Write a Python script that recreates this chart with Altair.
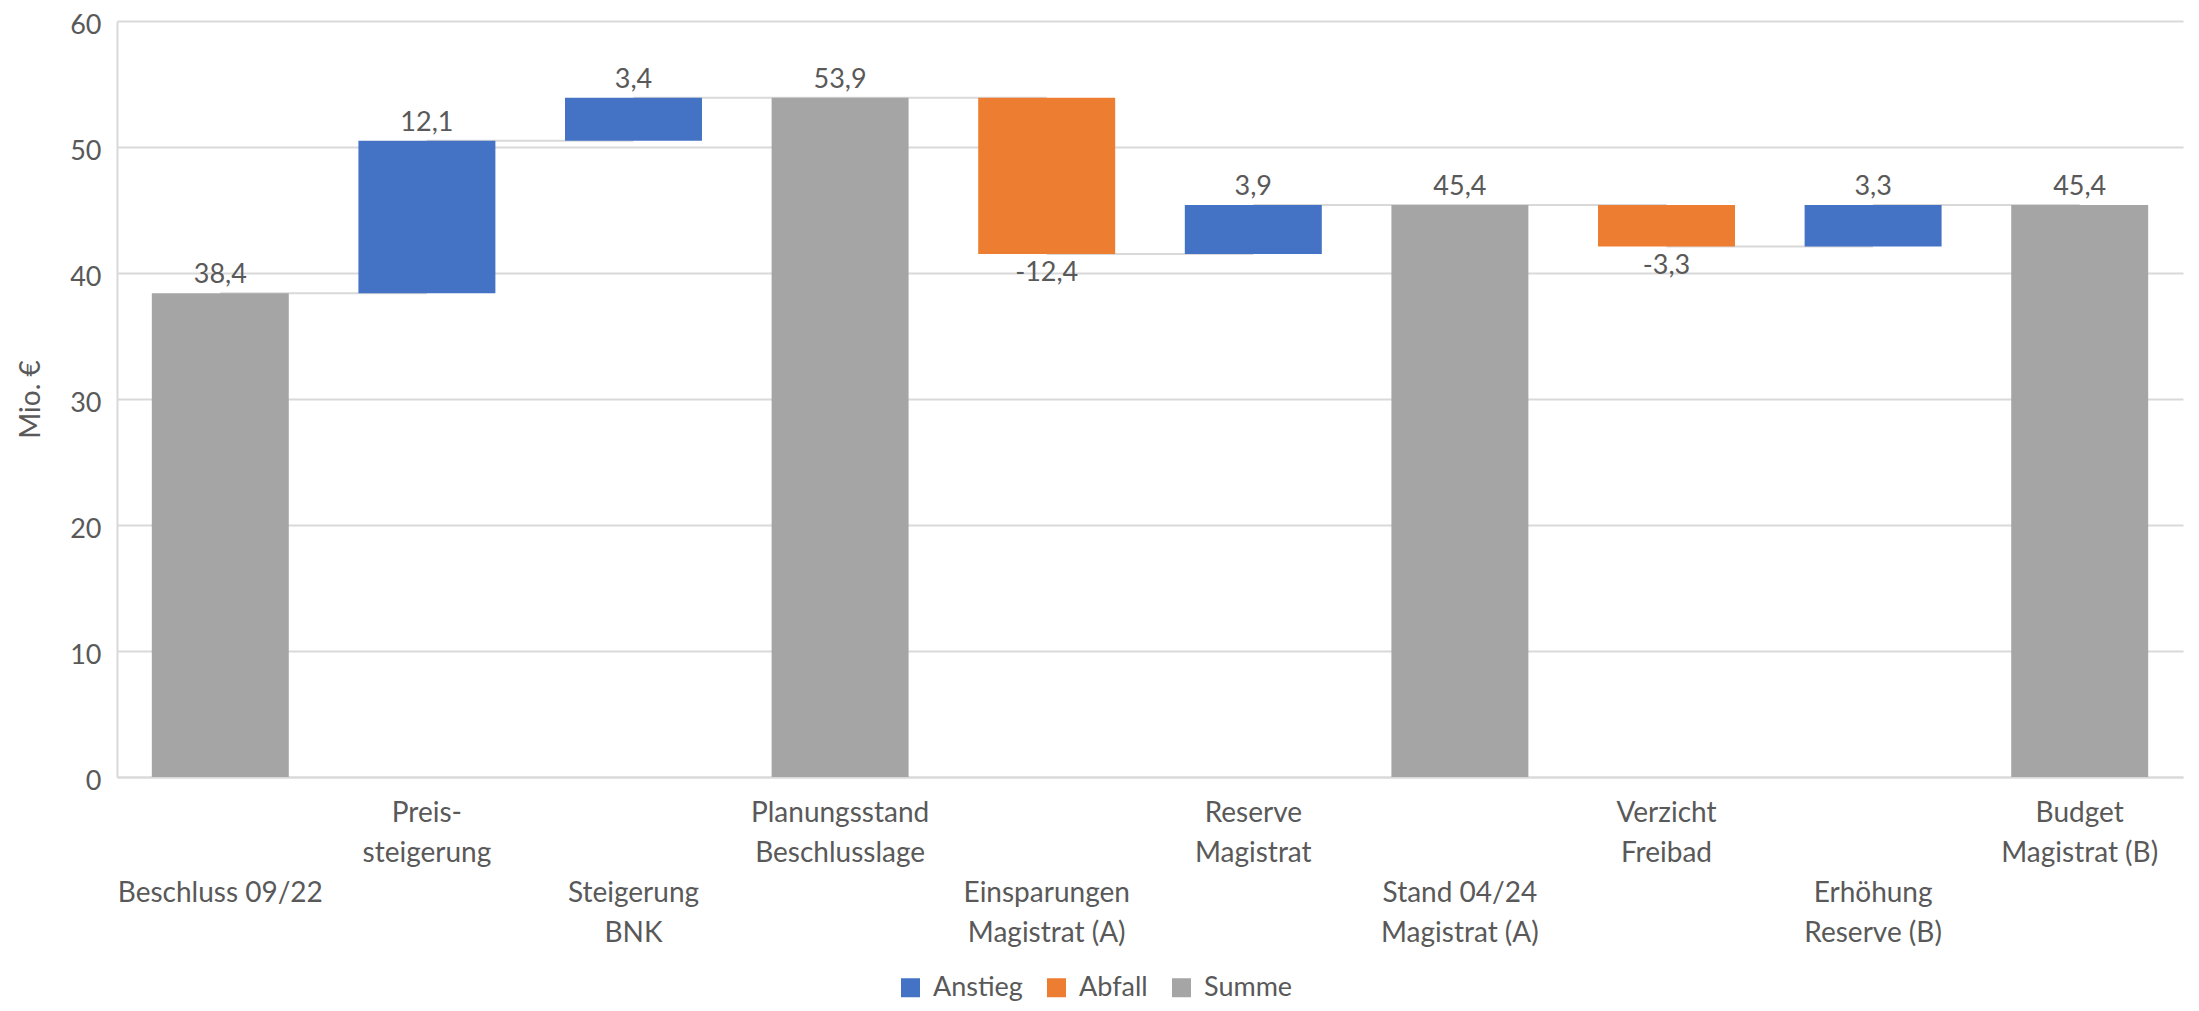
import altair as alt
import pandas as pd

categories = [
    "Beschluss 09/22",
    "Preis-\nsteigerung",
    "Steigerung\nBNK",
    "Planungsstand\nBeschlusslage",
    "Einsparungen\nMagistrat (A)",
    "Reserve\nMagistrat",
    "Stand 04/24\nMagistrat (A)",
    "Verzicht\nFreibad",
    "Erhöhung\nReserve (B)",
    "Budget\nMagistrat (B)",
]
values = [38.4, 12.1, 3.4, 53.9, -12.4, 3.9, 45.4, -3.3, 3.3, 45.4]
kinds = ["Summe", "Anstieg", "Anstieg", "Summe", "Abfall", "Anstieg",
         "Summe", "Abfall", "Anstieg", "Summe"]
legend_order = ["Anstieg", "Abfall", "Summe"]
colors = ["#4472C4", "#ED7D31", "#A5A5A5"]
y_ticks = [0, 10, 20, 30, 40, 50, 60]

rows = []
running = 0.0
for cat, v, k in zip(categories, values, kinds):
    if k == "Summe":
        start, end = 0.0, v
        running = v
    else:
        start, end = running, running + v
        running = end
    rows.append({
        "cat": cat, "kind": k, "start": round(start, 2), "end": round(end, 2),
        "top": round(max(start, end), 2), "bottom": round(min(start, end), 2),
        "label": f"{v:.1f}".replace(".", ","),
    })
df = pd.DataFrame(rows)

conn = pd.DataFrame([
    {"cat": rows[i]["cat"], "next": rows[i + 1]["cat"], "level": rows[i]["end"]}
    for i in range(len(rows) - 1)
])

# staggered category labels (Excel style): odd categories start in row 0,
# even ones in row 2
label_rows = []
for i, cat in enumerate(categories):
    first = 0 if i % 2 == 1 else 2
    for j, line in enumerate(cat.split("\n")):
        label_rows.append({"cat": cat, "line": line, "row": first + j})
labels_df = pd.DataFrame(label_rows)

FONT = "Lato"
TXT = "#595959"
FS_AX = 28
FS_NUM = 27
H = 756

xscale = alt.Scale(paddingInner=0.337, paddingOuter=0.1685)
xenc = alt.X(
    "cat:N", sort=categories, title=None, scale=xscale,
    axis=alt.Axis(labels=False, ticks=False, domainColor="#D9D9D9",
                  domainWidth=2),
)

yscale = alt.Scale(domain=[0, 60], nice=False)
yaxis = alt.Axis(values=y_ticks, title="Mio. €",
                 titleFont=FONT, titleFontSize=FS_AX, titleFontWeight="normal",
                 titleColor=TXT, titlePadding=24, labelFont=FONT,
                 labelFontSize=FS_NUM, labelColor=TXT, labelPadding=16,
                 labelOffset=4,
                 ticks=False, domainColor="#D9D9D9", domainWidth=2,
                 gridColor="#D9D9D9", gridWidth=2)

rules = alt.Chart(conn).mark_rule(color="#D9D9D9", strokeWidth=2).encode(
    x=alt.X("cat:N", sort=categories),
    x2="next:N",
    y=alt.Y("level:Q", scale=yscale),
)

bars = alt.Chart(df).mark_bar().encode(
    x=xenc,
    y=alt.Y("start:Q", scale=yscale, axis=yaxis),
    y2="end:Q",
    color=alt.Color(
        "kind:N",
        scale=alt.Scale(domain=legend_order, range=colors),
        legend=alt.Legend(title=None, orient="none", legendX=780, legendY=953,
                          direction="horizontal",
                          symbolType="square", symbolSize=361,
                          symbolStrokeWidth=0, labelFont=FONT,
                          labelFontSize=27, labelColor=TXT,
                          columnPadding=20, labelOffset=9),
    ),
)

text_up = alt.Chart(df).transform_filter("datum.kind != 'Abfall'").mark_text(
    baseline="bottom", dy=-4, font=FONT, fontSize=FS_NUM, color=TXT
).encode(
    x=alt.X("cat:N", sort=categories),
    y=alt.Y("top:Q", scale=yscale),
    text="label:N",
)

text_down = alt.Chart(df).transform_filter("datum.kind == 'Abfall'").mark_text(
    baseline="top", dy=6, font=FONT, fontSize=FS_NUM, color=TXT
).encode(
    x=alt.X("cat:N", sort=categories),
    y=alt.Y("bottom:Q", scale=yscale),
    text="label:N",
)

label_layers = []
for r in range(4):
    label_layers.append(
        alt.Chart(labels_df).transform_filter(f"datum.row == {r}").mark_text(
            baseline="middle", align="center", font=FONT, fontSize=FS_AX,
            color=TXT
        ).encode(
            x=alt.X("cat:N", sort=categories),
            y=alt.value(H + 37 + 40 * r),
            text="line:N",
        )
    )

chart = alt.layer(rules, bars, text_up, text_down, *label_layers).properties(
    width=2066, height=H,
    autosize=alt.AutoSizeParams(type="none"),
    padding={"left": 109, "top": 13, "right": 8, "bottom": 226},
).configure_view(stroke=None).configure_axis(grid=True).configure_axisX(grid=False)

chart.save("out.html", embed_options={"renderer": "svg", "actions": False})
